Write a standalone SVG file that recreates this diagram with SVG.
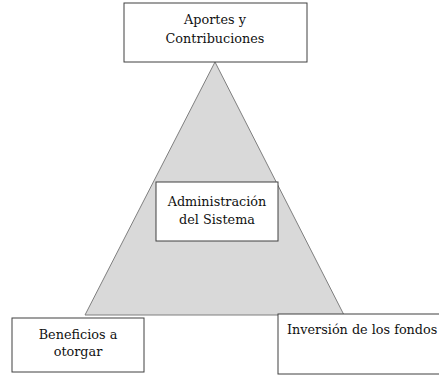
<svg xmlns="http://www.w3.org/2000/svg" width="439" height="375" viewBox="0 0 439 375">
<style>
.box{fill:#ffffff;stroke:#404040;stroke-width:1}
.t{font-family:"DejaVu Serif","Liberation Serif",serif;font-size:12.8px;fill:#111}
.m{text-anchor:middle}
</style>
<rect width="439" height="375" fill="#ffffff"/>
<g id="connectors">
<polygon points="215,62 85,315 344,315" fill="#d9d9d9" stroke="#7f7f7f" stroke-width="1"/>
</g>
<g id="aportes">
<rect class="box" x="124" y="3" width="183" height="59"/>
<text class="t m" x="215" y="24">Aportes y</text>
<text class="t m" x="215" y="43">Contribuciones</text>
</g>
<g id="administracion">
<rect class="box" x="156" y="182" width="122" height="59"/>
<text class="t m" x="217" y="206">Administración</text>
<text class="t m" x="217" y="224">del Sistema</text>
</g>
<g id="beneficios">
<rect class="box" x="12" y="318" width="132" height="54"/>
<text class="t m" x="78" y="339">Beneficios a</text>
<text class="t m" x="78" y="356">otorgar</text>
</g>
<g id="inversion">
<rect class="box" x="278" y="314" width="170" height="60"/>
<text class="t" x="287" y="334">Inversión de los fondos</text>
</g>
</svg>
